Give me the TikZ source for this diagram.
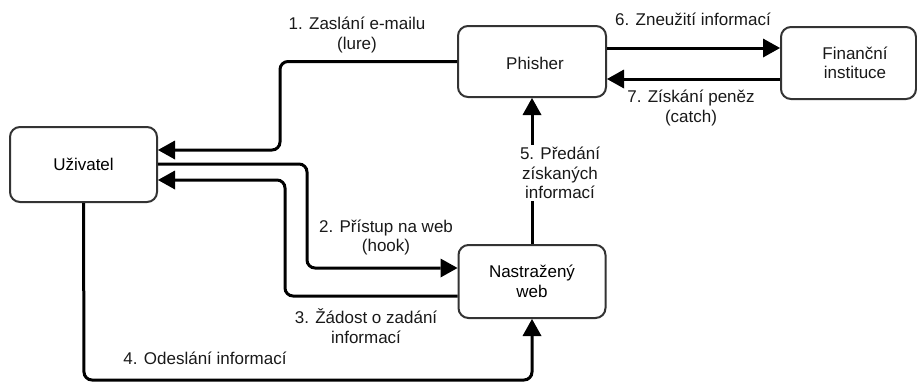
\documentclass[tikz,border=0pt]{standalone}
\usepackage{fontspec}
\setmainfont{Liberation Sans}
\usetikzlibrary{arrows.meta}
\begin{document}
\begin{tikzpicture}[x=1pt,y=-1pt,
  box/.style={draw=black!80,line width=2pt,rounded corners=10pt,fill=white,inner sep=0pt,align=center},
  conn/.style={draw=black,line width=3pt,rounded corners=8pt,-{Triangle[length=17pt,width=19pt,line width=0pt]}},
  lbl/.style={inner sep=1pt,align=center,text=black!90}]
\useasboundingbox (0,0) rectangle (917,383);
\fontsize{17}{19.5}\selectfont
% boxes
\node[box,minimum width=147pt,minimum height=75pt] (user) at (83.5,164.5) {Uživatel};
\node[box,minimum width=148pt,minimum height=71pt] (phisher) at (532,61.5) {};
\node[lbl,inner sep=0pt] (phtext) at (535,63.5) {Phisher};
\node[box,minimum width=135pt,minimum height=72pt] (fin) at (848.5,63) {};
\node[lbl,inner sep=0pt] (fintext) at (855,63) {Finanční\\instituce};
\node[box,minimum width=147pt,minimum height=73pt] (web) at (532,281.5) {Nastražený\\web};
% 1
\draw[conn] (phisher.west) -- (280,61.5) -- (280,150) -- (user.east |- 0,150);
\node[lbl] (l1) at (357,35) {1. Zaslání e-mailu\\(lure)};
% 2
\draw[conn] (user.east |- 0,164) -- (307,164) -- (307,268) -- (web.west |- 0,268);
\node[lbl] (l2) at (386,237.5) {2. Přístup na web\\(hook)};
% 3
\draw[conn] (web.west |- 0,296) -- (285,296) -- (285,180) -- (user.east |- 0,180);
\node[lbl] (l3) at (366,326) {3. Žádost o zadání\\informací};
% 4
\draw[conn] (user.south) -- (84,380) -- (532,380) -- (web.south);
\node[lbl] (l4) at (205,358) {4. Odeslání informací};
% 5
\draw[conn] (web.north) -- (phisher.south);
\node[lbl,fill=white,inner sep=2pt] (l5) at (560,173) {5. Předání\\získaných\\informací};
% 6
\draw[conn] (phisher.east |- 0,48) -- (fin.west |- 0,48);
\node[lbl] (l6) at (693,19) {6. Zneužití informací};
% 7
\draw[conn] (fin.west |- 0,79) -- (phisher.east |- 0,79);
\node[lbl] (l7) at (691,108) {7. Získání peněz\\(catch)};
\end{tikzpicture}
\end{document}
